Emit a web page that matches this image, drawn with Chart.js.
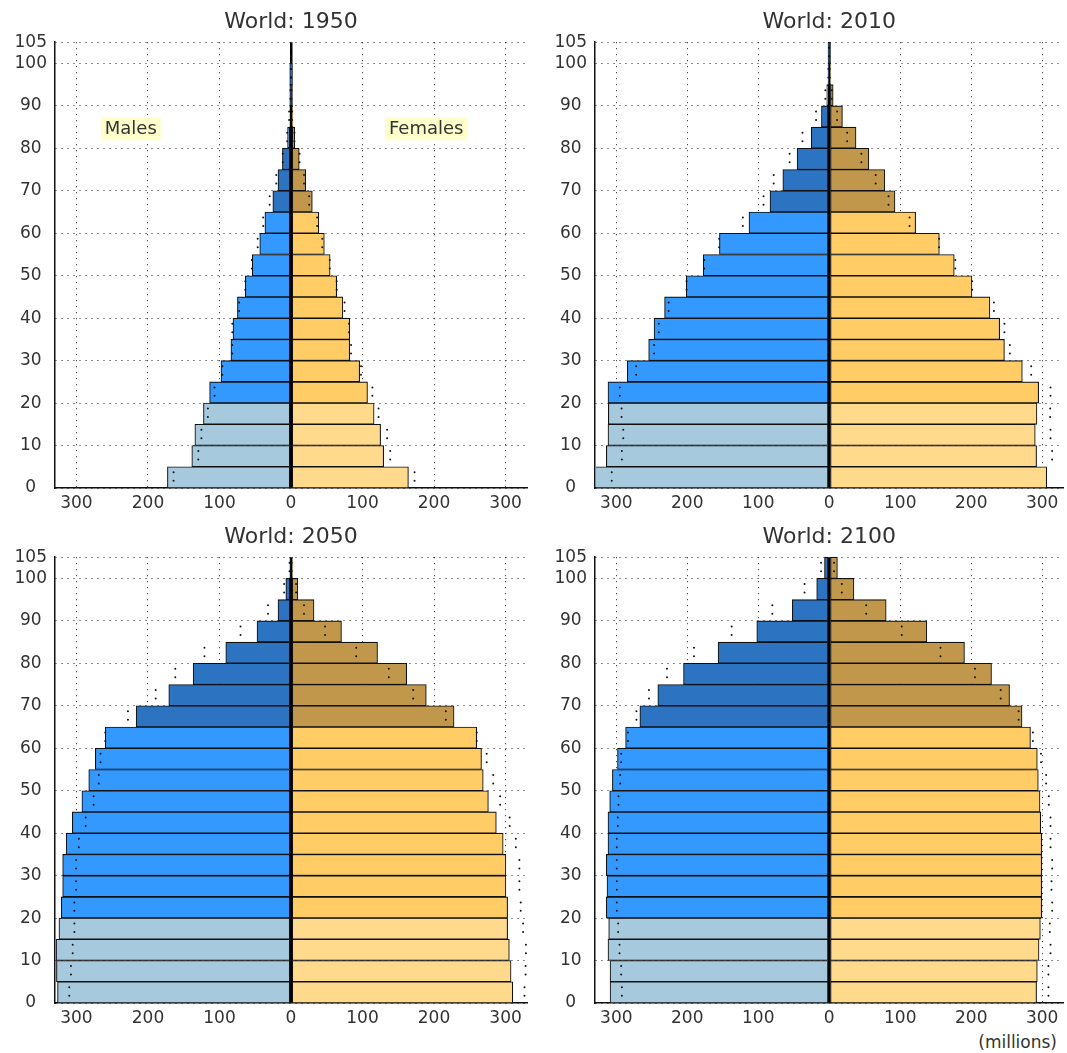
<!DOCTYPE html>
<html>
<head>
<meta charset="utf-8">
<script src="https://cdn.jsdelivr.net/npm/chart.js@4.4.1/dist/chart.umd.min.js"></script>
<style>
  body { margin: 0; background: #fff; width: 1067px; height: 1053px; position: relative; overflow: hidden; font-family: 'DejaVu Sans', sans-serif; }
  .panel { position: absolute; }
  #unit { position: absolute; left: 960px; width: 97px; top: 1032px; text-align: right; font-size: 17px; line-height: 20px; color: #333; }
</style>
</head>
<body>
<div class="panel" style="left:0px;top:0px;width:535px;height:516px"><canvas id="c1950"></canvas></div>
<div class="panel" style="left:539.5px;top:0px;width:527.5px;height:516px"><canvas id="c2010"></canvas></div>
<div class="panel" style="left:0px;top:515px;width:535px;height:516px"><canvas id="c2050"></canvas></div>
<div class="panel" style="left:539.5px;top:515px;width:527.5px;height:516px"><canvas id="c2100"></canvas></div>
<div id="unit">(millions)</div>
<script>
const FONT = "'DejaVu Sans', sans-serif";

// age groups (start of each 5-year band)
const ageStarts = [0, 5, 10, 15, 20, 25, 30, 35, 40, 45, 50, 55, 60, 65, 70, 75, 80, 85, 90, 95, 100];
const yTicks = [0, 10, 20, 30, 40, 50, 60, 70, 80, 90, 100, 105];
const xTicks = [-300, -200, -100, 0, 100, 200, 300];

// population in millions, youngest band first
const males1950 = [172.8, 138.7, 134.4, 122.4, 113.8, 97.9, 84.0, 81.1, 74.9, 63.9, 54.2, 43.7, 36.5, 25.4, 18.2, 12.0, 4.8, 1.6, 0.5, 0.1, 0.0];
const females1950 = [164.2, 129.6, 125.3, 116.2, 107.0, 96.0, 82.1, 82.1, 72.5, 63.9, 54.7, 46.6, 38.9, 29.8, 20.6, 11.5, 5.3, 2.6, 0.8, 0.2, 0.0];
const males2010 = [332.0, 314.0, 311.7, 311.2, 311.7, 284.5, 254.4, 246.8, 232.0, 201.4, 177.6, 154.7, 113.1, 83.5, 65.4, 45.3, 25.3, 11.0, 3.5, 0.6, 0.1];
const females2010 = [306.4, 292.1, 290.2, 292.6, 295.0, 272.0, 246.8, 240.1, 226.3, 201.0, 176.1, 155.1, 121.7, 92.6, 78.3, 55.8, 37.7, 18.6, 5.5, 1.2, 0.2];
const males2050 = [326.5, 328.0, 328.5, 324.5, 321.2, 319.3, 319.3, 314.4, 305.8, 292.4, 282.8, 273.6, 259.7, 216.5, 170.9, 136.8, 91.2, 47.5, 18.2, 7.2, 1.0];
const females2050 = [310.1, 307.7, 305.3, 302.9, 302.9, 300.5, 300.5, 296.7, 287.1, 276.0, 268.8, 266.4, 259.7, 228.0, 189.2, 161.8, 121.0, 70.6, 32.2, 9.6, 2.0];
const males2100 = [308.8, 308.8, 311.7, 310.7, 314.1, 313.1, 314.1, 311.7, 311.7, 309.3, 305.5, 298.3, 286.9, 266.8, 241.5, 205.3, 156.6, 102.1, 52.0, 17.7, 6.7];
const females2100 = [292.1, 293.1, 295.5, 297.4, 299.3, 299.3, 299.3, 299.3, 297.9, 296.9, 294.5, 293.1, 283.5, 271.6, 254.0, 228.6, 190.5, 137.5, 80.2, 34.8, 11.5];

// labels in the first panel
const sexLabels = ['Males', 'Females'];
const sexLabelX = [-224, 189];
const sexLabelAge = 84.6;

const maleColors = ['#a6c9de', '#3399ff', '#2c74c2'];
const femaleColors = ['#ffd98c', '#ffcc66', '#c0974b'];

const bandColor = (start, colors) => (start < 20 ? colors[0] : start < 65 ? colors[1] : colors[2]);

const sexLabelPlugin = {
  id: 'sexLabels',
  afterDatasetsDraw(chart) {
    const ctx = chart.ctx;
    const xs = chart.scales.x;
    const ys = chart.scales.y;
    ctx.save();
    ctx.font = '18px ' + FONT;
    ctx.textAlign = 'center';
    ctx.textBaseline = 'middle';
    sexLabels.forEach((txt, i) => {
      const px = xs.getPixelForValue(sexLabelX[i]);
      const py = ys.getPixelForValue(sexLabelAge);
      const w = ctx.measureText(txt).width;
      ctx.fillStyle = '#ffffcc';
      ctx.fillRect(px - w / 2 - 4, py - 11.5, w + 8, 23);
      ctx.fillStyle = '#333';
      ctx.fillText(txt, px, py + 1);
    });
    ctx.restore();
  },
};

const isZero = c => c.tick && c.tick.value === 0;

// vertical grid: the zero line is solid and heavy like the centre spine
const xAxisStyle = {
  offset: false,
  grid: {
    color: c => (isZero(c) ? '#000' : '#222'),
    lineWidth: c => (isZero(c) ? 2.5 : 1),
    drawTicks: false,
    offset: false,
  },
  border: { color: '#111', width: 1.5, dash: c => (isZero(c) ? [] : [1, 5]) },
};

const yAxisStyle = {
  offset: false,
  grid: { color: '#222', lineWidth: 1, drawTicks: false, offset: false },
  border: { color: '#111', width: 1.5, dash: [1, 5] },
};

const makePyramid = (id, year, males, females, padRight, plugins) => {
  const dots = (values, sign) => {
    const pts = [];
    values.forEach((v, i) => {
      pts.push({ x: sign * v, y: ageStarts[i] + 1.7 });
      pts.push({ x: sign * v, y: ageStarts[i] + 3.7 });
    });
    return pts;
  };
  const barSet = (values, sign, colors) => ({
    type: 'bar',
    indexAxis: 'y',
    grouped: false,
    order: 1,
    data: values.map((v, i) => ({ x: sign * v, y: ageStarts[i] + 2.5 })),
    backgroundColor: ageStarts.map(a => bandColor(a, colors)),
    borderColor: '#111',
    borderWidth: 1.1,
    borderSkipped: false,
    barPercentage: 1,
    categoryPercentage: 1,
    clip: { left: -1, top: 2, right: 2, bottom: 2 },
  });
  const dotSet = pts => ({
    type: 'scatter',
    order: 0,
    data: pts,
    pointRadius: 1,
    pointBorderWidth: 0,
    pointBackgroundColor: '#111',
    clip: 0,
  });

  return new Chart(document.getElementById(id), {
    type: 'bar',
    data: {
      datasets: [
        dotSet(dots(females, -1)),
        dotSet(dots(males, 1)),
        barSet(males, -1, maleColors),
        barSet(females, 1, femaleColors),
      ],
    },
    options: {
      responsive: true,
      maintainAspectRatio: false,
      animation: false,
      layout: { padding: { right: padRight } },
      plugins: {
        legend: { display: false },
        tooltip: { enabled: false },
        title: {
          display: true,
          text: 'World: ' + year,
          fullSize: false,
          color: '#333',
          font: { family: FONT, size: 22, weight: 'normal', lineHeight: 1.2 },
          padding: { top: 9, bottom: 6.8 },
        },
      },
      scales: {
        x: {
          type: 'linear',
          min: -330,
          max: 330,
          afterBuildTicks: s => { s.ticks = xTicks.map(v => ({ value: v })); },
          afterFit: s => { s.height = 28; },
          ticks: {
            autoSkip: false,
            maxRotation: 0,
            padding: 5,
            color: '#333',
            font: { family: FONT, size: 17 },
            callback: v => Math.abs(v),
          },
          ...xAxisStyle,
        },
        y: {
          type: 'linear',
          min: 0,
          max: 105,
          afterBuildTicks: s => { s.ticks = yTicks.map(v => ({ value: v })); },
          afterFit: s => { s.width = 55; },
          ticks: {
            autoSkip: false,
            padding: 8,
            crossAlign: 'center',
            color: '#333',
            font: { family: FONT, size: 17 },
          },
          ...yAxisStyle,
        },
      },
    },
    plugins: plugins || [],
  });
};

makePyramid('c1950', 1950, males1950, females1950, 8, [sexLabelPlugin]);
makePyramid('c2010', 2010, males2010, females2010, 0);
makePyramid('c2050', 2050, males2050, females2050, 8);
makePyramid('c2100', 2100, males2100, females2100, 0);
</script>
</body>
</html>
